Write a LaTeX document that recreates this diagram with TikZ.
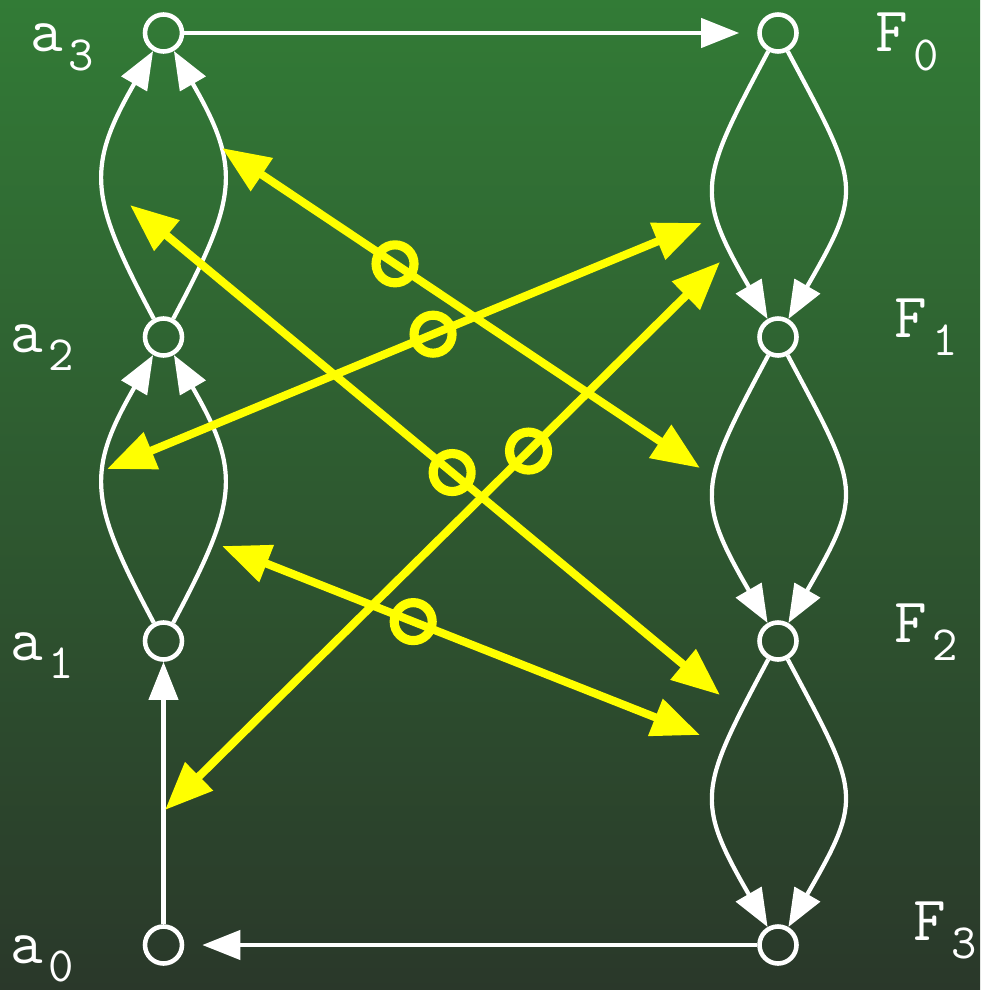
\documentclass[tikz,border=0pt]{standalone}
\usepackage{fontspec}
\usetikzlibrary{arrows.meta,positioning}
\definecolor{bgtop}{HTML}{327B36}
\definecolor{bgbot}{HTML}{2A382A}
\definecolor{hl}{HTML}{FFFF00}
\tikzset{
  state/.style={draw=white, circle, line width=1.3pt, inner sep=0pt, minimum size=3.7mm},
  lbl/.style={text=white, inner sep=0pt, anchor=base west},
  move/.style={draw=white, line width=1.2pt, -{Triangle[length=3.8mm, width=2.9mm]}},
  swap/.style={draw=hl, line width=2.3pt,
    {Triangle[length=4.8mm, width=3.8mm]}-{Triangle[length=4.8mm, width=3.8mm]}},
  ring/.style={draw=hl, circle, line width=2.6pt, inner sep=0pt, minimum size=3.8mm},
}
\newcommand{\idx}[2]{{\fontsize{18}{21}\selectfont\ttfamily #1}\kern1.5pt%
  \raisebox{-5.2pt}{\fontsize{14}{16}\selectfont\ttfamily #2}}

\begin{document}
\begin{tikzpicture}

\useasboundingbox (0,0) rectangle (9.8,-9.9);
\shade[top color=bgtop, bottom color=bgbot] (0,0) rectangle (9.8,-9.9);

% states: a-column on the left, F-column on the right
\node[state] (a3) at (1.635,-0.33) {};
\node[state] (a2) at (1.635,-3.37) {};
\node[state] (a1) at (1.635,-6.41) {};
\node[state] (a0) at (1.635,-9.45) {};
\node[state] (f0) at (7.78,-0.33) {};
\node[state] (f1) at (7.78,-3.37) {};
\node[state] (f2) at (7.78,-6.41) {};
\node[state] (f3) at (7.78,-9.45) {};

\node[lbl] (la3) at (0.30,-0.52) {\idx{a}{3}};
\node[lbl] (la2) at (0.10,-3.52) {\idx{a}{2}};
\node[lbl] (la1) at (0.10,-6.60) {\idx{a}{1}};
\node[lbl] (la0) at (0.10,-9.63) {\idx{a}{0}};
\node[lbl] (lf0) at (8.75,-0.52) {\idx{F}{0}};
\node[lbl] (lf1) at (8.94,-3.37) {\idx{F}{1}};
\node[lbl] (lf2) at (8.94,-6.42) {\idx{F}{2}};
\node[lbl] (lf3) at (9.13,-9.40) {\idx{F}{3}};

% white transitions
\draw[move, shorten >=1.8mm] (a3) -- (f0);
\draw[move, shorten >=1.8mm] (f3) -- (a0);
\draw[move] (a0) -- (a1);
\foreach \lo/\hi in {a1/a2, a2/a3} {
  \draw[move] (\lo) to[out=118, in=-120, looseness=1.3] (\hi);
  \draw[move] (\lo) to[out=62, in=-60, looseness=1.3] (\hi);
}
\foreach \up/\dn in {f0/f1, f1/f2, f2/f3} {
  \draw[move] (\up) to[out=-118, in=120, looseness=1.4] (\dn);
  \draw[move] (\up) to[out=-62, in=60, looseness=1.45] (\dn);
}

% yellow crossings, each with its ring
\coordinate (p1a) at (2.22,-1.48);
\coordinate (p1b) at (7.00,-4.68);
\coordinate (p2a) at (1.30,-2.05);
\coordinate (p2b) at (7.20,-6.95);
\coordinate (p3a) at (7.02,-2.23);
\coordinate (p3b) at (1.07,-4.69);
\coordinate (p4a) at (7.20,-2.62);
\coordinate (p4b) at (1.65,-8.10);
\coordinate (p5a) at (2.22,-5.46);
\coordinate (p5b) at (7.00,-7.35);
\draw[swap] (p1a) -- node[ring, pos=0.362] (r1) {} (p1b);
\draw[swap] (p2a) -- node[ring, pos=0.546] (r2) {} (p2b);
\draw[swap] (p3a) -- node[ring, pos=0.452] (r3) {} (p3b);
\draw[swap] (p4a) -- node[ring, pos=0.345] (r4) {} (p4b);
\draw[swap] (p5a) -- node[ring, pos=0.40] (r5) {} (p5b);

\end{tikzpicture}
\end{document}
